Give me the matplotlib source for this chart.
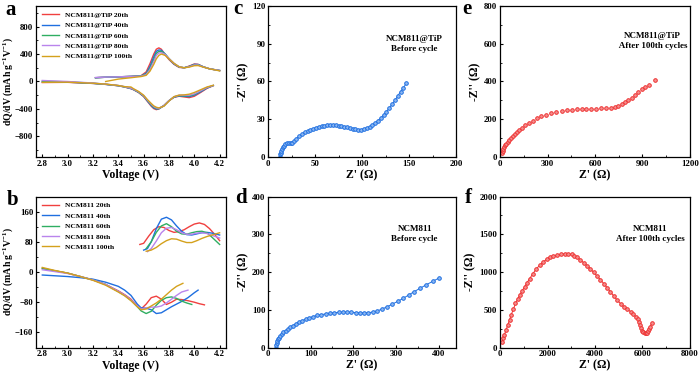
import matplotlib
matplotlib.use('Agg')
import matplotlib.pyplot as plt
from matplotlib.ticker import MultipleLocator, AutoMinorLocator

plt.rcParams['font.family'] = ['Liberation Serif', 'DejaVu Serif']
plt.rcParams['font.weight'] = 'bold'
plt.rcParams['mathtext.fontset'] = 'custom'
plt.rcParams['mathtext.rm'] = 'Liberation Serif:bold'
plt.rcParams['mathtext.bf'] = 'Liberation Serif:bold'
plt.rcParams['mathtext.it'] = 'Liberation Serif:bold'

# ---- data: panel a (NCM811@TiP dQ/dV) ----
cycles = ['20th', '40th', '60th', '80th', '100th']
cycle_colors = ['#f0403f', '#1f6fe0', '#2fae62', '#b984ec', '#d4a11c']

a_v_chg = [3.22, 3.30, 3.40, 3.50, 3.58, 3.62, 3.65, 3.68, 3.70, 3.72, 3.74,
           3.77, 3.80, 3.84, 3.88, 3.92, 3.96, 4.00, 4.03, 4.07, 4.12, 4.20]
a_chg = [
    [55, 62, 68, 74, 85, 140, 260, 400, 470, 490, 470, 390, 320, 250, 205, 200, 225, 255, 250, 215, 185, 160],
    [55, 62, 68, 74, 82, 120, 220, 360, 440, 460, 455, 400, 330, 255, 210, 200, 220, 250, 248, 215, 185, 160],
    [55, 62, 68, 74, 80, 110, 195, 320, 410, 438, 440, 400, 335, 260, 212, 200, 218, 245, 245, 213, 185, 160],
    [58, 64, 68, 73, 78, 100, 175, 290, 380, 415, 420, 395, 335, 265, 215, 200, 215, 240, 240, 212, 185, 160],
]
a_v_chg100 = [3.30, 3.40, 3.50, 3.58, 3.62, 3.65, 3.68, 3.70, 3.72, 3.74, 3.77,
              3.80, 3.84, 3.88, 3.92, 3.96, 4.00, 4.03, 4.07, 4.12, 4.20]
a_chg100 = [0, 35, 55, 72, 90, 150, 250, 330, 380, 400, 380, 330, 265, 215, 200, 210, 230, 232, 210, 185, 155]

a_v_dis = [4.15, 4.10, 4.05, 4.00, 3.96, 3.92, 3.88, 3.84, 3.80, 3.76, 3.72, 3.70, 3.68,
           3.66, 3.63, 3.60, 3.56, 3.52, 3.50, 3.45, 3.40, 3.30, 3.20, 3.00, 2.80]
a_dis = [
    [-60, -100, -160, -215, -235, -225, -215, -230, -280, -350, -400, -410, -395, -360, -290, -220, -160, -120, -105, -80, -62, -42, -28, -12, -15],
    [-60, -95, -150, -200, -220, -215, -210, -228, -280, -350, -398, -400, -385, -350, -285, -215, -158, -118, -103, -80, -62, -42, -28, -10, -5],
    [-58, -90, -140, -190, -210, -208, -205, -225, -280, -355, -395, -395, -375, -340, -275, -210, -155, -115, -100, -78, -60, -40, -25, -5, 5],
    [-58, -88, -135, -180, -200, -200, -200, -222, -280, -355, -390, -385, -365, -330, -270, -205, -150, -112, -98, -75, -58, -38, -22, 0, 15],
    [-55, -80, -120, -160, -185, -195, -198, -220, -285, -360, -385, -375, -355, -320, -265, -200, -145, -105, -80, -75, -58, -38, -25, -10, -12],
]

# ---- data: panel b (NCM811 dQ/dV) ----
b_v_dis_common = [2.8, 2.9, 3.0, 3.1, 3.2, 3.3, 3.4, 3.45, 3.5, 3.55, 3.58]
b_v_dis_tail = [
    [3.62, 3.66, 3.70, 3.74, 3.78, 3.82, 3.86, 3.90, 3.95, 4.00, 4.04, 4.08],
    [3.62, 3.66, 3.70, 3.74, 3.78, 3.82, 3.86, 3.90, 3.95, 4.00, 4.03],
    [3.62, 3.66, 3.70, 3.74, 3.78, 3.82, 3.86, 3.90, 3.94, 3.98],
    [3.62, 3.66, 3.70, 3.74, 3.78, 3.82, 3.86, 3.90, 3.95],
    [3.62, 3.66, 3.70, 3.74, 3.78, 3.82, 3.86, 3.91],
]
b_dis = [
    [10, 3, -3, -12, -21, -33, -50, -60, -72, -90, -98, -85, -68, -64, -72, -86, -80, -72, -73, -76, -80, -84, -87],
    [-8, -10, -12, -15, -19, -27, -38, -48, -62, -85, -95, -96, -100, -110, -108, -100, -92, -85, -78, -68, -55, -48],
    [9, 3, -3, -12, -21, -33, -52, -62, -75, -92, -103, -110, -104, -88, -75, -68, -66, -70, -77, -82, -86],
    [6, 1, -4, -12, -21, -33, -51, -61, -74, -90, -98, -95, -93, -93, -90, -82, -72, -62, -53, -48],
    [12, 4, -3, -12, -22, -35, -53, -63, -76, -92, -100, -98, -90, -82, -72, -60, -48, -38, -30],
]
b_v_chg = [
    [3.57, 3.60, 3.64, 3.68, 3.72, 3.76, 3.80, 3.84, 3.88, 3.92, 3.96, 4.00, 4.04, 4.08, 4.12, 4.16, 4.20],
    [3.60, 3.63, 3.66, 3.70, 3.74, 3.78, 3.82, 3.86, 3.90, 3.94, 3.98, 4.02, 4.06, 4.10, 4.14, 4.20],
    [3.62, 3.66, 3.70, 3.74, 3.78, 3.82, 3.86, 3.90, 3.94, 3.98, 4.02, 4.06, 4.10, 4.14, 4.20],
    [3.63, 3.66, 3.70, 3.74, 3.78, 3.82, 3.86, 3.90, 3.94, 3.98, 4.02, 4.06, 4.10, 4.14, 4.20],
    [3.62, 3.66, 3.70, 3.74, 3.78, 3.82, 3.86, 3.90, 3.94, 3.98, 4.02, 4.06, 4.10, 4.14, 4.20],
]
b_chg = [
    [73, 76, 95, 112, 120, 118, 110, 105, 107, 112, 120, 127, 130, 126, 115, 100, 83],
    [58, 62, 80, 115, 140, 145, 138, 122, 108, 99, 98, 101, 104, 105, 103, 98],
    [62, 80, 105, 122, 128, 120, 108, 101, 100, 104, 107, 108, 104, 92, 73],
    [54, 62, 82, 104, 116, 118, 112, 104, 100, 100, 103, 104, 102, 97, 90],
    [55, 58, 65, 75, 83, 88, 87, 82, 78, 78, 83, 89, 94, 98, 104],
]

# ---- data: EIS panels ----
c_zre = [12.5, 13, 13.5, 14, 15, 16, 17, 18.5, 20, 22, 24, 26, 28, 30, 33, 36, 39, 42, 45, 48,
         51, 54, 57, 60, 63, 66, 69, 72, 75, 78, 81, 84, 87, 90, 93, 96, 99, 102, 105, 108,
         111, 114, 117, 120, 123, 126, 129, 132, 135, 138, 141, 144, 147]
c_zim = [0, 2, 3.5, 5, 6.5, 8, 9, 10, 11, 11.5, 11, 11.5, 13, 14.5, 16.5, 18, 19.5, 20.5, 21.5, 22.5,
         23.3, 24, 24.5, 25, 25.3, 25.5, 25.5, 25.3, 25, 24.6, 24, 23.5, 23, 22.5, 22, 21.8, 21.8, 22.2, 23, 24,
         25.5, 27, 29, 31, 33.5, 36, 39, 42, 45, 48.5, 52, 55, 58.5]

d_zre = [18, 19, 20, 21, 23, 25, 28, 32, 36, 41, 46, 52, 58, 65, 72, 80, 88, 97, 106, 115,
         125, 135, 145, 155, 165, 175, 185, 195, 205, 215, 225, 235, 245, 256, 267, 279, 291,
         303, 316, 329, 342, 356, 370, 385, 400]
d_zim = [0, 6, 12, 17, 22, 26, 31, 36, 40, 45, 49, 54, 58, 63, 67, 71, 75, 79, 82, 85,
         87, 89, 91, 92, 93, 93.5, 93.5, 93, 92.5, 92, 91.5, 92, 94, 97, 102, 108, 115,
         122, 130, 139, 148, 157, 166, 175, 184]

e_zre = [13, 17, 21, 27, 33, 40, 49, 58, 68, 80, 92, 106, 123, 140, 160, 183, 207, 233, 260,
         290, 320, 355, 390, 420, 455, 485, 515, 545, 575, 608, 640, 672, 700, 725, 748, 768,
         790, 810, 832, 852, 874, 896, 918, 940, 980]
e_zim = [21, 32, 42, 52, 61, 70, 80, 90, 99, 110, 120, 131, 143, 155, 167, 180, 193, 205, 215,
         225, 233, 240, 245, 248, 250, 252, 253, 254, 255, 256, 257, 259, 262, 266, 272, 280,
         290, 302, 315, 330, 344, 358, 370, 383, 409]

f_zre = [85, 130, 184, 250, 326, 400, 468, 560, 652, 740, 823, 930, 1035, 1140, 1248, 1390,
         1532, 1680, 1816, 1960, 2100, 2240, 2383, 2560, 2738, 2880, 3021, 3130, 3234, 3380,
         3518, 3660, 3801, 3940, 4085, 4230, 4369, 4510, 4652, 4790, 4936, 5080, 5220, 5360,
         5504, 5620, 5716, 5800, 5858, 5910, 5957, 6000, 6042, 6090, 6141, 6190, 6241, 6290,
         6326, 6383]
f_zim = [70, 120, 167, 230, 298, 365, 430, 505, 583, 640, 693, 750, 803, 860, 912, 980,
         1044, 1090, 1132, 1168, 1197, 1210, 1219, 1232, 1241, 1238, 1232, 1218, 1197, 1162,
         1123, 1085, 1044, 997, 947, 898, 846, 792, 737, 682, 627, 580, 539, 505,
         474, 440, 408, 378, 342, 300, 254, 225, 202, 192, 189, 195, 219, 245,
         276, 320]

BLUE, BLUE_FILL = '#1f6fe0', '#8db8f2'
RED, RED_FILL = '#ee3030', '#f49090'

fig = plt.figure(figsize=(7, 3.82), dpi=100)
ax_a = fig.add_axes([0.0514, 0.589, 0.2714, 0.3953])
ax_b = fig.add_axes([0.0514, 0.0903, 0.2714, 0.3953])
ax_c = fig.add_axes([0.3829, 0.589, 0.2686, 0.3953])
ax_d = fig.add_axes([0.3829, 0.0903, 0.2686, 0.3953])
ax_e = fig.add_axes([0.7143, 0.589, 0.2714, 0.3953])
ax_f = fig.add_axes([0.7143, 0.0903, 0.2714, 0.3953])


def style(ax, xmaj, ymaj):
    ax.xaxis.set_major_locator(MultipleLocator(xmaj))
    ax.yaxis.set_major_locator(MultipleLocator(ymaj))
    ax.xaxis.set_minor_locator(AutoMinorLocator(2))
    ax.yaxis.set_minor_locator(AutoMinorLocator(2))
    ax.tick_params(which='both', direction='in', labelsize=6.3, pad=2)
    ax.tick_params(which='major', length=2.5, width=0.8)
    ax.tick_params(which='minor', length=1.5, width=0.6)
    for s in ax.spines.values():
        s.set_linewidth(0.9)
    for lab in ax.get_xticklabels() + ax.get_yticklabels():
        lab.set_fontweight('bold')


legend_kw = dict(loc='upper left', frameon=False, handlelength=2.3, handletextpad=0.8,
                 labelspacing=0.55, borderaxespad=0.35, prop={'weight': 'bold', 'size': 5.4})

# ---- Panel a ----
for i in range(4):
    ax_a.plot(a_v_chg, a_chg[i], color=cycle_colors[i], lw=1.0,
              label=f'NCM811@TiP {cycles[i]}')
ax_a.plot(a_v_chg100, a_chg100, color=cycle_colors[4], lw=1.0,
          label=f'NCM811@TiP {cycles[4]}')
for i in range(5):
    ax_a.plot(a_v_dis, a_dis[i], color=cycle_colors[i], lw=1.0)
ax_a.set_xlim(2.75, 4.25)
ax_a.set_ylim(-1100, 1100)
style(ax_a, 0.2, 400)
ax_a.set_xlabel('Voltage (V)', fontsize=8.5, fontweight='bold', labelpad=1)
ax_a.set_ylabel(r'dQ/dV (mAh g$^{-1}$V$^{-1}$)', fontsize=7, fontweight='bold', labelpad=0)
ax_a.legend(**legend_kw)

# ---- Panel b ----
for i in range(5):
    ax_b.plot(b_v_dis_common + b_v_dis_tail[i], b_dis[i], color=cycle_colors[i], lw=1.0,
              label=f'NCM811 {cycles[i]}')
    ax_b.plot(b_v_chg[i], b_chg[i], color=cycle_colors[i], lw=1.0)
ax_b.set_xlim(2.75, 4.25)
ax_b.set_ylim(-200, 200)
style(ax_b, 0.2, 80)
ax_b.set_xlabel('Voltage (V)', fontsize=8.5, fontweight='bold', labelpad=1)
ax_b.set_ylabel(r'dQ/dV (mAh g$^{-1}$V$^{-1}$)', fontsize=7, fontweight='bold', labelpad=0)
ax_b.legend(**legend_kw)

# ---- EIS panels ----
eis = [
    (ax_c, c_zre, c_zim, BLUE, BLUE_FILL, '-', (0, 200), (0, 120), 50, 30, 'NCM811@TiP\nBefore cycle', (0.78, 0.75)),
    (ax_d, d_zre, d_zim, BLUE, BLUE_FILL, '-', (0, 440), (0, 400), 100, 100, 'NCM811\nBefore cycle', (0.78, 0.75)),
    (ax_e, e_zre, e_zim, RED, RED_FILL, 'none', (0, 1200), (0, 800), 300, 200, 'NCM811@TiP\n After 100th cycles', (0.80, 0.77)),
    (ax_f, f_zre, f_zim, RED, RED_FILL, '-', (0, 8000), (0, 2000), 2000, 500, 'NCM811\nAfter 100th cycles', (0.79, 0.75)),
]
for ax, zr, zi, col, fill, ls, xl, yl, xm, ym, txt, pos in eis:
    ax.plot(zr, zi, ls=ls, color=col, lw=0.7, marker='o', ms=2.6,
            mfc=fill, mec=col, mew=0.7)
    ax.set_xlim(*xl)
    ax.set_ylim(*yl)
    style(ax, xm, ym)
    ax.set_xlabel("Z' (Ω)", fontsize=8.5, fontweight='bold', labelpad=1)
    ax.set_ylabel("-Z'' (Ω)", fontsize=8.5, fontweight='bold', labelpad=2)
    ax.text(pos[0], pos[1], txt, transform=ax.transAxes, ha='center', va='center',
            fontsize=6.5, fontweight='bold', linespacing=1.3)

# panel letters
for letter, x, y in [('a', 0.008, 0.960), ('c', 0.333, 0.964), ('e', 0.661, 0.964),
                     ('b', 0.010, 0.463), ('d', 0.336, 0.469), ('f', 0.664, 0.469)]:
    fig.text(x, y, letter, fontsize=15, fontweight='bold', va='baseline')

fig.savefig('out.png', dpi=100)
